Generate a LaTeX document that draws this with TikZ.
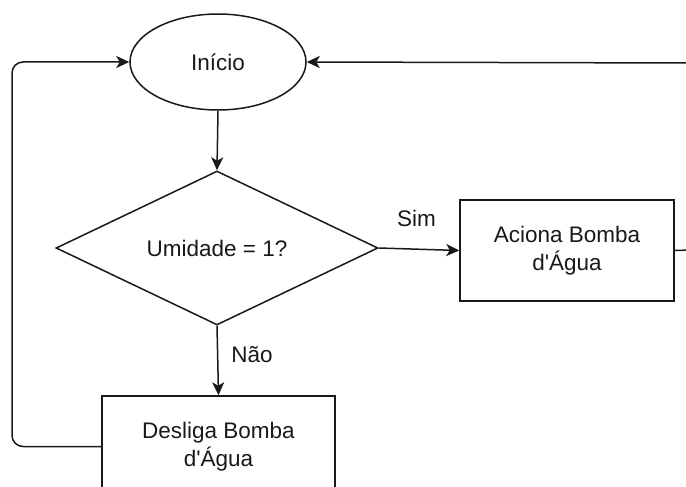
\documentclass[tikz,border=0pt]{standalone}
\usepackage{fontspec}
\setmainfont{Liberation Sans}[Ligatures=TeXOff]
\usetikzlibrary{shapes.geometric,arrows.meta}

\tikzset{
  base/.style={draw=black!90, line width=1.5pt, fill=white, font=\fontsize{22.5}{28}\selectfont,
    text=black!90, align=center, inner sep=0pt},
  startnode/.style={base, ellipse, minimum width=176pt, minimum height=96pt},
  decision/.style={base, diamond, aspect=2.09, minimum width=322pt, minimum height=154pt},
  process/.style={base, rectangle, minimum height=101pt},
  flow/.style={draw=black!90, line width=1.5pt, -{Stealth[length=13pt, width=12pt, inset=3.5pt]}},
  plainline/.style={draw=black!90, line width=1.5pt},
  lbl/.style={font=\fontsize{22.5}{28}\selectfont, text=black!90, inner sep=0pt}
}

\begin{document}
\begin{tikzpicture}[x=1pt, y=-1pt]
  \useasboundingbox (0,0) rectangle (686,487);

  % shapes
  \node[startnode] (inicio) at (218,62) {Início};
  \node[decision] (decisao) at (217,248) {Umidade = 1?};
  \node[process, minimum width=214pt] (aciona) at (567,250.5) {Aciona Bomba\\d'Água};
  \node[process, minimum width=233pt] (desliga) at (218.5,446.5) {Desliga Bomba\\d'Água};

  % loose ends running off the right edge
  \coordinate (retorno) at (690,63);
  \coordinate (saida) at (690,250);
  \coordinate (cantoBaixo) at (12,446.5);
  \coordinate (cantoAlto) at (12,62);

  % connectors
  \draw[flow] (inicio.south) -- (decisao.north);
  \draw[flow] (decisao.east) -- (aciona.west)
    node[lbl, pos=0.47, above=22pt] (sim) {Sim};
  \draw[flow] (decisao.south) -- (desliga.north)
    node[lbl, pos=0.42, right=13pt] (nao) {Não};
  \draw[plainline] (aciona.east) -- (saida);
  \draw[flow] (retorno) -- (inicio.east);
  \draw[flow, rounded corners=11pt] (desliga.west) -- (cantoBaixo) -- (cantoAlto) -- (inicio.west);
\end{tikzpicture}
\end{document}
